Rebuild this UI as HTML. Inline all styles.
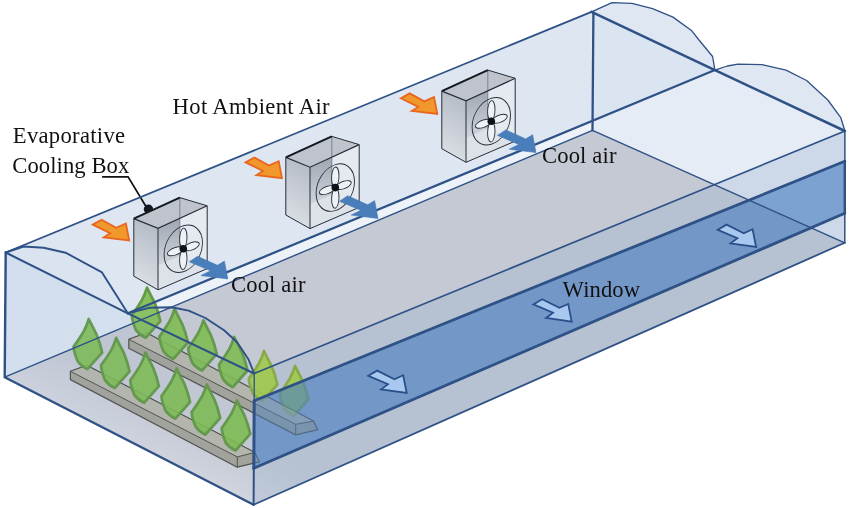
<!DOCTYPE html>
<html><head><meta charset="utf-8"><title>Greenhouse evaporative cooling</title>
<style>html,body{margin:0;padding:0;background:#fff}svg{display:block;filter:blur(0.3px)}text{font-family:"Liberation Serif",serif;fill:#111}</style>
</head><body>
<svg width="850" height="508" viewBox="0 0 850 508">
<defs>
<linearGradient id="gside" x1="0.2" y1="0" x2="0" y2="1"><stop offset="0" stop-color="#b7bdc7"/><stop offset="1" stop-color="#e0e4ea"/></linearGradient>
<linearGradient id="ginner" x1="0" y1="0" x2="0" y2="1"><stop offset="0" stop-color="#a0a7b2"/><stop offset="1" stop-color="#cfd4dc"/></linearGradient>
<clipPath id="cEnd"><polygon points="592.5,130.3 844.8,242.8 850.0,242.0 850.0,0.0 592.5,0.0"/></clipPath>
<linearGradient id="gwall" gradientUnits="userSpaceOnUse" x1="5" y1="300" x2="254" y2="470"><stop offset="0" stop-color="#7f9fd0" stop-opacity="0.115"/><stop offset="0.6" stop-color="#7f9fd0" stop-opacity="0.07"/><stop offset="1" stop-color="#7f9fd0" stop-opacity="0.04"/></linearGradient>
<linearGradient id="gveil" gradientUnits="userSpaceOnUse" x1="150" y1="390" x2="120" y2="448"><stop offset="0" stop-color="#ffffff" stop-opacity="0"/><stop offset="1" stop-color="#ffffff" stop-opacity="0.3"/></linearGradient>
</defs>
<rect width="850" height="508" fill="#ffffff"/>
<polygon points="5.7,252.5 591.5,11.8 592.5,130.3 4.7,377.2" fill="#dde6f1"/>
<polygon points="127.8,313.3 592.8,120.7 592.5,130.3 141.4,319.8" fill="#edf2f8"/>
<polygon points="591.5,11.8 612.0,2.6 632.0,3.4 652.5,8.6 673.0,17.1 691.8,30.8 699.0,40.0 712.6,56.5 714.9,70.1 727.3,66.0 738.0,64.2 762.0,64.6 786.0,70.2 806.6,80.5 827.8,100.0 840.8,117.7 844.9,131.0 844.8,242.8 592.5,130.3" fill="#dfe7f3"/>
<polygon points="591.5,11.8 714.9,70.1 592.8,120.7" fill="#dbe5f2"/>
<polygon points="592.8,120.7 714.9,70.1 844.9,131.0 844.8,242.8 592.5,130.3" fill="#e6ecf6"/>
<polygon points="4.7,377.2 592.5,130.3 844.8,242.8 253.6,504.7" fill="#c5c9d3"/>
<polygon points="4.7,377.2 128.0,325.4 254.2,373.5 340.0,338.3 340.0,466.4 253.6,504.7" fill="url(#gveil)"/>
<polyline points="102.1,176.8 128.1,176.8 147.5,209" fill="none" stroke="#111" stroke-width="1.7" stroke-linejoin="miter"/>
<circle cx="148.5" cy="209.3" r="4.7" fill="#141820"/>
<g transform="translate(0,0)">
<polygon points="158.0,228.4 207.2,205.8 207.2,268.6 158.0,289.8" fill="#e5e9f0"/>
<polygon points="158.0,265.5 179.8,255.8 207.2,268.6 158.0,289.8" fill="#dde1e8"/>
<polygon points="158.0,228.4 179.8,218.3 179.8,255.8 158.0,265.5" fill="url(#ginner)"/>
<polygon points="133.8,218.6 158.0,228.4 158.0,289.8 133.8,276.2" fill="url(#gside)"/>
<polygon points="133.8,218.6 179.8,197.6 207.2,205.8 158.0,228.4" fill="#bec3cc"/>
<polyline points="179.8,197.6 179.8,255.8" fill="none" stroke="#6a7280" stroke-width="0.8"/>
<polygon points="133.8,218.6 179.8,197.6 207.2,205.8 207.2,268.6 158.0,289.8 133.8,276.2" fill="none" stroke="#272e39" stroke-width="1" stroke-linejoin="round"/>
<polyline points="133.8,218.6 158.0,228.4 207.2,205.8" fill="none" stroke="#272e39" stroke-width="1.2"/>
<polyline points="133.8,218.6 179.8,197.6" fill="none" stroke="#161a20" stroke-width="2"/>
<polyline points="158.0,228.4 158.0,289.8" fill="none" stroke="#272e39" stroke-width="1"/>
<g transform="translate(183.3,248.8) skewY(-17)" fill="#eef2f7" stroke="#272e39" stroke-width="0.9">
<ellipse cx="0" cy="0" rx="19.2" ry="23" fill="none"/>
<ellipse cx="0" cy="-10.6" rx="3.7" ry="10"/>
<ellipse cx="0" cy="10.6" rx="3.7" ry="10"/>
<ellipse cx="-8.2" cy="0" rx="7.8" ry="3.8"/>
<ellipse cx="8.2" cy="0" rx="7.8" ry="3.8"/>
</g>
<circle cx="183.3" cy="248.8" r="3.8" fill="#0d1118"/>
</g>
<g transform="translate(152,-61.2)">
<polygon points="158.0,228.4 207.2,205.8 207.2,268.6 158.0,289.8" fill="#e5e9f0"/>
<polygon points="158.0,265.5 179.8,255.8 207.2,268.6 158.0,289.8" fill="#dde1e8"/>
<polygon points="158.0,228.4 179.8,218.3 179.8,255.8 158.0,265.5" fill="url(#ginner)"/>
<polygon points="133.8,218.6 158.0,228.4 158.0,289.8 133.8,276.2" fill="url(#gside)"/>
<polygon points="133.8,218.6 179.8,197.6 207.2,205.8 158.0,228.4" fill="#bec3cc"/>
<polyline points="179.8,197.6 179.8,255.8" fill="none" stroke="#6a7280" stroke-width="0.8"/>
<polygon points="133.8,218.6 179.8,197.6 207.2,205.8 207.2,268.6 158.0,289.8 133.8,276.2" fill="none" stroke="#272e39" stroke-width="1" stroke-linejoin="round"/>
<polyline points="133.8,218.6 158.0,228.4 207.2,205.8" fill="none" stroke="#272e39" stroke-width="1.2"/>
<polyline points="133.8,218.6 179.8,197.6" fill="none" stroke="#161a20" stroke-width="2"/>
<polyline points="158.0,228.4 158.0,289.8" fill="none" stroke="#272e39" stroke-width="1"/>
<g transform="translate(183.3,248.8) skewY(-17)" fill="#eef2f7" stroke="#272e39" stroke-width="0.9">
<ellipse cx="0" cy="0" rx="19.2" ry="23" fill="none"/>
<ellipse cx="0" cy="-10.6" rx="3.7" ry="10"/>
<ellipse cx="0" cy="10.6" rx="3.7" ry="10"/>
<ellipse cx="-8.2" cy="0" rx="7.8" ry="3.8"/>
<ellipse cx="8.2" cy="0" rx="7.8" ry="3.8"/>
</g>
<circle cx="183.3" cy="248.8" r="3.8" fill="#0d1118"/>
</g>
<g transform="translate(308,-127.5)">
<polygon points="158.0,228.4 207.2,205.8 207.2,268.6 158.0,289.8" fill="#e5e9f0"/>
<polygon points="158.0,265.5 179.8,255.8 207.2,268.6 158.0,289.8" fill="#dde1e8"/>
<polygon points="158.0,228.4 179.8,218.3 179.8,255.8 158.0,265.5" fill="url(#ginner)"/>
<polygon points="133.8,218.6 158.0,228.4 158.0,289.8 133.8,276.2" fill="url(#gside)"/>
<polygon points="133.8,218.6 179.8,197.6 207.2,205.8 158.0,228.4" fill="#bec3cc"/>
<polyline points="179.8,197.6 179.8,255.8" fill="none" stroke="#6a7280" stroke-width="0.8"/>
<polygon points="133.8,218.6 179.8,197.6 207.2,205.8 207.2,268.6 158.0,289.8 133.8,276.2" fill="none" stroke="#272e39" stroke-width="1" stroke-linejoin="round"/>
<polyline points="133.8,218.6 158.0,228.4 207.2,205.8" fill="none" stroke="#272e39" stroke-width="1.2"/>
<polyline points="133.8,218.6 179.8,197.6" fill="none" stroke="#161a20" stroke-width="2"/>
<polyline points="158.0,228.4 158.0,289.8" fill="none" stroke="#272e39" stroke-width="1"/>
<g transform="translate(183.3,248.8) skewY(-17)" fill="#eef2f7" stroke="#272e39" stroke-width="0.9">
<ellipse cx="0" cy="0" rx="19.2" ry="23" fill="none"/>
<ellipse cx="0" cy="-10.6" rx="3.7" ry="10"/>
<ellipse cx="0" cy="10.6" rx="3.7" ry="10"/>
<ellipse cx="-8.2" cy="0" rx="7.8" ry="3.8"/>
<ellipse cx="8.2" cy="0" rx="7.8" ry="3.8"/>
</g>
<circle cx="183.3" cy="248.8" r="3.8" fill="#0d1118"/>
</g>
<polygon points="128.8,339.3 146.5,332.9 313.4,421.1 317.8,429.6 295.7,434.9 128.8,348.2" fill="#a3a399" stroke="#4f4f49" stroke-width="1.2" stroke-linejoin="round"/>
<polygon points="128.8,339.3 146.5,332.9 313.4,421.1 295.7,424.3" fill="#b7b7ab" stroke="#4f4f49" stroke-width="1" stroke-linejoin="round"/>
<polyline points="295.7,424.3 295.7,434.9" fill="none" stroke="#4f4f49" stroke-width="1"/>
<polygon points="70.4,371.3 86.7,365.4 254.9,452.5 259.4,461.9 237.3,467.2 70.4,379.6" fill="#a3a399" stroke="#4f4f49" stroke-width="1.2" stroke-linejoin="round"/>
<polygon points="70.4,371.3 86.7,365.4 254.9,452.5 237.3,456.9" fill="#b7b7ab" stroke="#4f4f49" stroke-width="1" stroke-linejoin="round"/>
<polyline points="237.3,456.9 237.3,467.2" fill="none" stroke="#4f4f49" stroke-width="1"/>
<path transform="translate(147.0,287.6)" d="M0,0 Q3.2,6.5 7.5,14.8 Q11,23 13.4,33.5 L-1.4,50.2 Q-7.5,47.5 -11.2,42.3 Q-13.5,37 -14.8,31.5 L-15.2,27.6 Q-9.5,20 -5.3,12.8 Q-2,6.5 0,0Z" fill="#7dbd4e" fill-opacity="0.9" stroke="#5f9641" stroke-opacity="0.95" stroke-width="2.7" stroke-linejoin="round"/>
<path transform="translate(174.6,309.0)" d="M0,0 Q3.2,6.5 7.5,14.8 Q11,23 13.4,33.5 L-1.4,50.2 Q-7.5,47.5 -11.2,42.3 Q-13.5,37 -14.8,31.5 L-15.2,27.6 Q-9.5,20 -5.3,12.8 Q-2,6.5 0,0Z" fill="#7dbd4e" fill-opacity="0.9" stroke="#5f9641" stroke-opacity="0.95" stroke-width="2.7" stroke-linejoin="round"/>
<path transform="translate(203.4,320.4)" d="M0,0 Q3.2,6.5 7.5,14.8 Q11,23 13.4,33.5 L-1.4,50.2 Q-7.5,47.5 -11.2,42.3 Q-13.5,37 -14.8,31.5 L-15.2,27.6 Q-9.5,20 -5.3,12.8 Q-2,6.5 0,0Z" fill="#7dbd4e" fill-opacity="0.9" stroke="#5f9641" stroke-opacity="0.95" stroke-width="2.7" stroke-linejoin="round"/>
<path transform="translate(234.2,337.0)" d="M0,0 Q3.2,6.5 7.5,14.8 Q11,23 13.4,33.5 L-1.4,50.2 Q-7.5,47.5 -11.2,42.3 Q-13.5,37 -14.8,31.5 L-15.2,27.6 Q-9.5,20 -5.3,12.8 Q-2,6.5 0,0Z" fill="#7dbd4e" fill-opacity="0.9" stroke="#5f9641" stroke-opacity="0.95" stroke-width="2.7" stroke-linejoin="round"/>
<path transform="translate(88.8,319.0)" d="M0,0 Q3.2,6.5 7.5,14.8 Q11,23 13.4,33.5 L-1.4,50.2 Q-7.5,47.5 -11.2,42.3 Q-13.5,37 -14.8,31.5 L-15.2,27.6 Q-9.5,20 -5.3,12.8 Q-2,6.5 0,0Z" fill="#7dbd4e" fill-opacity="0.9" stroke="#5f9641" stroke-opacity="0.95" stroke-width="2.7" stroke-linejoin="round"/>
<path transform="translate(116.2,337.8)" d="M0,0 Q3.2,6.5 7.5,14.8 Q11,23 13.4,33.5 L-1.4,50.2 Q-7.5,47.5 -11.2,42.3 Q-13.5,37 -14.8,31.5 L-15.2,27.6 Q-9.5,20 -5.3,12.8 Q-2,6.5 0,0Z" fill="#7dbd4e" fill-opacity="0.9" stroke="#5f9641" stroke-opacity="0.95" stroke-width="2.7" stroke-linejoin="round"/>
<path transform="translate(145.5,352.6)" d="M0,0 Q3.2,6.5 7.5,14.8 Q11,23 13.4,33.5 L-1.4,50.2 Q-7.5,47.5 -11.2,42.3 Q-13.5,37 -14.8,31.5 L-15.2,27.6 Q-9.5,20 -5.3,12.8 Q-2,6.5 0,0Z" fill="#7dbd4e" fill-opacity="0.9" stroke="#5f9641" stroke-opacity="0.95" stroke-width="2.7" stroke-linejoin="round"/>
<path transform="translate(176.7,368.5)" d="M0,0 Q3.2,6.5 7.5,14.8 Q11,23 13.4,33.5 L-1.4,50.2 Q-7.5,47.5 -11.2,42.3 Q-13.5,37 -14.8,31.5 L-15.2,27.6 Q-9.5,20 -5.3,12.8 Q-2,6.5 0,0Z" fill="#7dbd4e" fill-opacity="0.9" stroke="#5f9641" stroke-opacity="0.95" stroke-width="2.7" stroke-linejoin="round"/>
<path transform="translate(206.8,384.5)" d="M0,0 Q3.2,6.5 7.5,14.8 Q11,23 13.4,33.5 L-1.4,50.2 Q-7.5,47.5 -11.2,42.3 Q-13.5,37 -14.8,31.5 L-15.2,27.6 Q-9.5,20 -5.3,12.8 Q-2,6.5 0,0Z" fill="#7dbd4e" fill-opacity="0.9" stroke="#5f9641" stroke-opacity="0.95" stroke-width="2.7" stroke-linejoin="round"/>
<path transform="translate(236.9,400.4)" d="M0,0 Q3.2,6.5 7.5,14.8 Q11,23 13.4,33.5 L-1.4,50.2 Q-7.5,47.5 -11.2,42.3 Q-13.5,37 -14.8,31.5 L-15.2,27.6 Q-9.5,20 -5.3,12.8 Q-2,6.5 0,0Z" fill="#7dbd4e" fill-opacity="0.9" stroke="#5f9641" stroke-opacity="0.95" stroke-width="2.7" stroke-linejoin="round"/>
<polygon points="254.2,373.5 844.9,131.0 844.8,242.8 253.6,504.7" fill="#98b0cd" fill-opacity="0.32"/>
<path transform="translate(264.0,351.0)" d="M0,0 Q3.2,6.5 7.5,14.8 Q11,23 13.4,33.5 L-1.4,50.2 Q-7.5,47.5 -11.2,42.3 Q-13.5,37 -14.8,31.5 L-15.2,27.6 Q-9.5,20 -5.3,12.8 Q-2,6.5 0,0Z" fill="#a0c94a" fill-opacity="0.9" stroke="#86a946" stroke-opacity="0.95" stroke-width="2.7" stroke-linejoin="round"/>
<path transform="translate(295.0,365.8)" d="M0,0 Q3.2,6.5 7.5,14.8 Q11,23 13.4,33.5 L-1.4,50.2 Q-7.5,47.5 -11.2,42.3 Q-13.5,37 -14.8,31.5 L-15.2,27.6 Q-9.5,20 -5.3,12.8 Q-2,6.5 0,0Z" fill="#a0c94a" fill-opacity="0.9" stroke="#86a946" stroke-opacity="0.95" stroke-width="2.7" stroke-linejoin="round"/>
<polygon points="254.2,400.7 844.8,161.3 844.8,213.2 253.8,468.2" fill="#4a80c2" fill-opacity="0.62"/>
<clipPath id="cWin"><polygon points="254.2,400.7 844.8,161.3 844.8,213.2 253.8,468.2"/></clipPath>
<g clip-path="url(#cWin)" opacity="0.3"><polygon points="128.8,339.3 146.5,332.9 313.4,421.1 317.8,429.6 295.7,434.9 128.8,348.2" fill="#a3a399" stroke="#4f4f49" stroke-width="1.2" stroke-linejoin="round"/>
<polygon points="128.8,339.3 146.5,332.9 313.4,421.1 295.7,424.3" fill="#b7b7ab" stroke="#4f4f49" stroke-width="1" stroke-linejoin="round"/>
<polyline points="295.7,424.3 295.7,434.9" fill="none" stroke="#4f4f49" stroke-width="1"/>
<polygon points="70.4,371.3 86.7,365.4 254.9,452.5 259.4,461.9 237.3,467.2 70.4,379.6" fill="#a3a399" stroke="#4f4f49" stroke-width="1.2" stroke-linejoin="round"/>
<polygon points="70.4,371.3 86.7,365.4 254.9,452.5 237.3,456.9" fill="#b7b7ab" stroke="#4f4f49" stroke-width="1" stroke-linejoin="round"/>
<polyline points="237.3,456.9 237.3,467.2" fill="none" stroke="#4f4f49" stroke-width="1"/></g>
<polygon points="5.7,252.5 127.8,313.3 254.2,373.5 253.6,504.7 4.7,377.2" fill="url(#gwall)"/>
<polygon points="5.7,252.5 23.6,246.5 43.7,247.7 65.6,252.7 102.0,272.4 127.8,313.3 149.3,307.8 171.7,307.2 188.6,310.6 205.4,318.0 224.1,330.2 237.1,342.3 248.4,359.2 254.2,373.5" fill="#8fb0e0" fill-opacity="0.04"/>
<g fill="none" stroke="#2e5186" stroke-linecap="round" stroke-linejoin="round">
<polyline points="4.7,377.2 592.5,130.3 844.8,242.8" stroke-width="1.4"/>
<polyline points="5.7,252.5 591.5,11.8" stroke-width="1.8"/>
<polyline points="127.8,313.3 714.9,70.1" stroke-width="2.2"/>
<polyline points="254.2,373.5 844.9,131.0" stroke-width="1.7"/>
<polyline points="254.2,400.7 844.8,161.3" stroke-width="2.8"/>
<polyline points="253.8,468.2 844.8,213.2" stroke-width="2.8"/>
<polyline points="253.6,504.7 844.8,242.8" stroke-width="1.8"/>
<polyline points="844.9,131.0 844.8,242.8" stroke-width="1.5"/>
<polyline points="844.8,161.3 844.8,213.2" stroke-width="2.4"/>
<polyline points="593.4,12.5 592.5,130.3" stroke-width="2.3"/>
<polyline points="591.5,11.8 714.9,70.1 844.9,131.0" stroke-width="2.5"/>
<polyline points="591.5,11.8 612.0,2.6 632.0,3.4 652.5,8.6 673.0,17.1 691.8,30.8 699.0,40.0 712.6,56.5 714.9,70.1" stroke-width="1.3"/>
<polyline points="714.9,70.1 727.3,66.0 738.0,64.2 762.0,64.6 786.0,70.2 806.6,80.5 827.8,100.0 840.8,117.7 844.9,131.0" stroke-width="1.3"/>
<polyline points="5.7,252.5 23.6,246.5 43.7,247.7 65.6,252.7 102.0,272.4 127.8,313.3" stroke-width="1.9"/>
<polyline points="127.8,313.3 149.3,307.8 171.7,307.2 188.6,310.6 205.4,318.0 224.1,330.2 237.1,342.3 248.4,359.2 254.2,373.5" stroke-width="1.9"/>
<polyline points="5.7,252.5 127.8,313.3 254.2,373.5" stroke-width="2"/>
<polyline points="5.7,252.5 4.7,377.2 253.6,504.7" stroke-width="2.4"/>
<polyline points="254.2,373.5 254.2,400.7" stroke-width="1.3"/>
<polyline points="254.2,400.7 253.8,468.2" stroke-width="3"/>
<polyline points="253.8,468.2 253.6,504.7" stroke-width="2"/>
</g>
<polygon points="197.5,256.3 217.5,265.3 224.4,261.1 227.8,279.0 201.0,275.6 210.6,270.8 189.3,261.8" fill="#4a7ebb" stroke="#4677b2" stroke-width="0.6" stroke-linejoin="round"/>
<polygon points="92.8,224.6 101.6,219.8 116.2,227.8 125.9,223.5 129.2,240.4 103.7,237.3 110.2,233.3" fill="#f0982c" stroke="#ea651e" stroke-width="1.8" stroke-linejoin="miter"/>
<polygon points="347.7,195.8 367.7,204.8 374.6,200.6 378.0,218.5 351.2,215.1 360.8,210.3 339.5,201.3" fill="#4a7ebb" stroke="#4677b2" stroke-width="0.6" stroke-linejoin="round"/>
<polygon points="245.6,162.4 254.4,157.5 269.0,165.6 278.7,161.3 282.0,178.1 256.5,175.1 263.0,171.0" fill="#f0982c" stroke="#ea651e" stroke-width="1.8" stroke-linejoin="miter"/>
<polygon points="505.7,129.9 525.7,138.9 532.6,134.7 536.0,152.6 509.2,149.2 518.8,144.4 497.5,135.4" fill="#4a7ebb" stroke="#4677b2" stroke-width="0.6" stroke-linejoin="round"/>
<polygon points="400.9,98.2 409.7,93.4 424.3,101.4 434.0,97.1 437.3,114.0 411.8,110.9 418.3,106.9" fill="#f0982c" stroke="#ea651e" stroke-width="1.8" stroke-linejoin="miter"/>
<polygon transform="translate(0,0)" points="368.3,375.8 377.2,370.6 394.4,379.2 403.2,375.3 406.7,393.0 381.1,389.3 388.0,384.1" fill="#a8c8ef" stroke="#2a4f8a" stroke-width="1.8" stroke-linejoin="miter"/>
<polygon transform="translate(165,-71.35)" points="368.3,375.8 377.2,370.6 394.4,379.2 403.2,375.3 406.7,393.0 381.1,389.3 388.0,384.1" fill="#a8c8ef" stroke="#2a4f8a" stroke-width="1.8" stroke-linejoin="miter"/>
<polygon transform="translate(349.4,-146)" points="368.3,375.8 377.2,370.6 394.4,379.2 403.2,375.3 406.7,393.0 381.1,389.3 388.0,384.1" fill="#a8c8ef" stroke="#2a4f8a" stroke-width="1.8" stroke-linejoin="miter"/>
<text x="172.6" y="114.2" font-size="22.6" textLength="157" lengthAdjust="spacing">Hot Ambient Air</text>
<text x="12.8" y="143" font-size="22.6" textLength="112.3" lengthAdjust="spacing">Evaporative</text>
<text x="12.3" y="172.5" font-size="22.6" textLength="117" lengthAdjust="spacing">Cooling Box</text>
<text x="542" y="162.5" font-size="22.6" textLength="74.5" lengthAdjust="spacing">Cool air</text>
<text x="231" y="292" font-size="22.6" textLength="74.5" lengthAdjust="spacing">Cool air</text>
<text x="562.6" y="297" font-size="22.6" textLength="77.5" lengthAdjust="spacing">Window</text>
</svg>
</body></html>
